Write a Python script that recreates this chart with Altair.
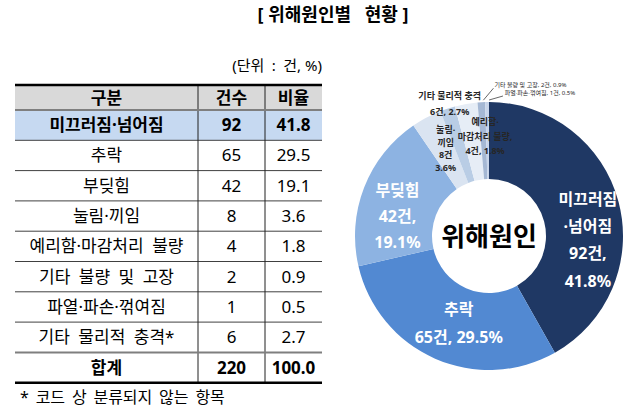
import math
import altair as alt
import pandas as pd

# ---------------- data ----------------
categories = ["미끄러짐·넘어짐", "추락", "부딪힘", "눌림·끼임", "예리함·마감처리 불량",
              "기타 불량 및 고장", "파열·파손·꺾여짐", "기타 물리적 충격"]
counts = [92, 65, 42, 8, 4, 2, 1, 6]
ratios = [41.8, 29.5, 19.1, 3.6, 1.8, 0.9, 0.5, 2.7]
total_count = 220
total_ratio = 100.0

header = ["구분", "건수", "비율"]
total_label = "합계"
title_text = "[ 위해원인별\u2002 현황 ]"
unit_text = "(단위\u2002:\u2002건, %)"
footnote = "*\u2009 코드\u2009 상\u2009 분류되지\u2009 않는\u2009 항목"
center_label = "위해원인"

# donut slice order (clockwise from 12 o'clock) and colours
donut_order = ["미끄러짐·넘어짐", "추락", "부딪힘", "눌림·끼임", "예리함·마감처리 불량",
               "기타 물리적 충격", "기타 불량 및 고장", "파열·파손·꺾여짐"]
donut_colors = ["#1f3864", "#5289d2", "#8db3e2", "#dae4f1", "#b9cde5",
                "#e6edf6", "#a5b8d4", "#c8d5ea"]

# ---------------- layout / style ----------------
W, H = 640, 416
FONT = "Noto Sans, Noto Sans CJK KR"
xs = alt.Scale(domain=[0, W], range=[0, W])
ys = alt.Scale(domain=[0, H], range=[0, H])

TBL_LEFT, TBL_TOP = 15, 85
COL_W = [183, 67, 57]
ROW_H = [25] + [30.3] * 9
col_edges = [TBL_LEFT]
for w in COL_W:
    col_edges.append(col_edges[-1] + w)
row_edges = [TBL_TOP]
for h in ROW_H:
    row_edges.append(row_edges[-1] + h)

display_names = {
    "예리함·마감처리 불량": "예리함·마감처리\u2002불량",
    "기타 불량 및 고장": "기타\u2002불량\u2002및\u2002고장",
    "기타 물리적 충격": "기타\u2002물리적\u2002충격*",
}

CX, CY, R_IN, R_OUT = 489, 236, 57, 134

# ---------------- table cells ----------------
table_rows = [header]
for c, n, p in zip(categories, counts, ratios):
    table_rows.append([display_names.get(c, c), str(n), f"{p:.1f}"])
table_rows.append([total_label, str(total_count), f"{total_ratio:.1f}"])
bold_rows = {0, 1, len(table_rows) - 1}

cells = []
for ri, row in enumerate(table_rows):
    for ci, txt in enumerate(row):
        cells.append(dict(
            x=(col_edges[ci] + col_edges[ci + 1]) / 2,
            y=(row_edges[ri] + row_edges[ri + 1]) / 2 + 1,
            text=txt,
            bold=ri in bold_rows,
        ))
cells = pd.DataFrame(cells)

fills = pd.DataFrame([
    dict(x=col_edges[0], x2=col_edges[-1], y=row_edges[0], y2=row_edges[1], fill="#d9d9d9"),
    dict(x=col_edges[0], x2=col_edges[-1], y=row_edges[1], y2=row_edges[2], fill="#c6d9f1"),
])

hlines = []
for i, yv in enumerate(row_edges):
    if i in (0, len(row_edges) - 1):
        kind = "thick"
    elif i in (1, len(row_edges) - 2):
        kind = "grey"
    else:
        kind = "thin"
    hlines.append(dict(x=col_edges[0], x2=col_edges[-1], y=yv, y2=yv, kind=kind))
for xv in col_edges[1:-1]:
    hlines.append(dict(x=xv, x2=xv, y=row_edges[0], y2=row_edges[-1], kind="vert"))
lines = pd.DataFrame(hlines)

# ---------------- donut ----------------
d_counts = [counts[categories.index(c)] for c in donut_order]
d_ratios = [ratios[categories.index(c)] for c in donut_order]
donut = pd.DataFrame(dict(cat=donut_order, count=d_counts, ord=list(range(len(donut_order)))))

label_layout = {
    "미끄러짐·넘어짐": dict(r=95, dx=7, dy=29, lh=27.3, style="big"),
    "추락": dict(r=95, dx=8, dy=1, lh=28, style="big"),
    "부딪힘": dict(r=95, dx=-3, dy=15, lh=26, style="big"),
    "눌림·끼임": dict(r=95, dx=1, dy=-3, lh=12.7, style="small"),
    "예리함·마감처리 불량": dict(r=100, dx=27, dy=-4, lh=14.5, style="small"),
    "기타 물리적 충격": dict(r=125, dx=-18, dy=-9, lh=16, style="small"),
    "기타 불량 및 고장": dict(r=150, dx=50, dy=-1, lh=0, style="tiny"),
    "파열·파손·꺾여짐": dict(r=142, dx=53, dy=-1, lh=0, style="tiny"),
}


def label_lines(name, c, p):
    if name == "미끄러짐·넘어짐":
        a, b = name.split("·")
        return [a, "·" + b, f"{c}건,", f"{p}%"]
    if name == "추락":
        return [name, f"{c}건, {p}%"]
    if name == "부딪힘":
        return [name, f"{c}건,", f"{p}%"]
    if name == "눌림·끼임":
        a, b = name.split("·")
        return [a + "·", b, f"{c}건", f"{p}%"]
    if name == "예리함·마감처리 불량":
        a, b = name.split("·")
        return [a + "·", b + ",", f"{c}건, {p}%"]
    if name == "기타 물리적 충격":
        return [name, f"{c}건, {p}%"]
    return [f"{name}, {c}건, {p}%"]


tot = sum(d_counts)
cum = 0
lab_rows = []
leaders = []
for name, c, p in zip(donut_order, d_counts, d_ratios):
    mid = (cum + c / 2) / tot * 2 * math.pi
    cum += c
    lay = label_layout[name]
    bx = CX + lay["r"] * math.sin(mid) + lay["dx"]
    by = CY - lay["r"] * math.cos(mid) + lay["dy"]
    ls = label_lines(name, c, p)
    n = len(ls)
    for i, t in enumerate(ls):
        lab_rows.append(dict(x=bx, y=by + (i - (n - 1) / 2) * lay["lh"], text=t, style=lay["style"]))
    if lay["style"] == "tiny":
        ox = CX + R_OUT * math.sin(mid)
        oy = CY - R_OUT * math.cos(mid)
        leaders.append(dict(x=ox + 2, y=oy - 2, x2=bx - 37, y2=by + 3))
labels = pd.DataFrame(lab_rows)
leaders = pd.DataFrame(leaders)

# ---------------- annotations ----------------
annot = pd.DataFrame([
    dict(x=333, y=16, text=title_text, kind="title"),
    dict(x=col_edges[-1], y=66, text=unit_text, kind="unit"),
    dict(x=20, y=398, text=footnote, kind="foot"),
    dict(x=CX, y=CY + 2, text=center_label, kind="center"),
])


def X(f):
    return alt.X(f, type="quantitative", scale=xs, axis=None)


def Y(f):
    return alt.Y(f, type="quantitative", scale=ys, axis=None)


base_fill = alt.Chart(fills).mark_rect().encode(
    x=X("x"), x2="x2", y=Y("y"), y2="y2", color=alt.Color("fill:N", scale=None))

line_layers = []
for kind, sw, col in [("thin", 1, "#404040"), ("vert", 1, "#202020"),
                      ("grey", 2, "#7f7f7f"), ("thick", 2.5, "#000000")]:
    line_layers.append(
        alt.Chart(lines).transform_filter(alt.datum.kind == kind).mark_rule(
            strokeWidth=sw, color=col).encode(x=X("x"), x2="x2", y=Y("y"), y2="y2"))

cell_normal = alt.Chart(cells).transform_filter(alt.datum.bold == False).mark_text(
    font=FONT, fontSize=17, color="#000", baseline="middle", align="center").encode(
    x=X("x"), y=Y("y"), text="text:N")
cell_bold = alt.Chart(cells).transform_filter(alt.datum.bold == True).mark_text(
    font=FONT, fontSize=17, fontWeight="bold", color="#000", baseline="middle", align="center").encode(
    x=X("x"), y=Y("y"), text="text:N")

arcs = alt.Chart(donut).mark_arc(innerRadius=R_IN, outerRadius=R_OUT).encode(
    theta=alt.Theta("count:Q", stack=True),
    color=alt.Color("cat:N", scale=alt.Scale(domain=donut_order, range=donut_colors), legend=None),
    order=alt.Order("ord:Q"),
    x=alt.value(CX), y=alt.value(CY))

lab_layers = []
for style, size, weight, col in [("big", 16, "bold", "#ffffff"), ("small", 9, "bold", "#262626"),
                                 ("tiny", 6, "normal", "#262626")]:
    lab_layers.append(
        alt.Chart(labels).transform_filter(alt.datum.style == style).mark_text(
            font=FONT, fontSize=size, fontWeight=weight, color=col, baseline="middle",
            align="center").encode(x=X("x"), y=Y("y"), text="text:N"))

leader_layer = alt.Chart(leaders).mark_rule(color="#404040", strokeWidth=0.8).encode(
    x=X("x"), x2="x2", y=Y("y"), y2="y2")

annot_layers = []
for kind, size, weight, align in [("title", 18, "bold", "center"), ("unit", 15, "normal", "right"),
                                  ("foot", 16, "normal", "left"), ("center", 26, "bold", "center")]:
    annot_layers.append(
        alt.Chart(annot).transform_filter(alt.datum.kind == kind).mark_text(
            font=FONT, fontSize=size, fontWeight=weight, color="#000", baseline="middle",
            align=align).encode(x=X("x"), y=Y("y"), text="text:N"))

chart = alt.layer(base_fill, *line_layers, cell_normal, cell_bold, arcs, *lab_layers,
                  leader_layer, *annot_layers).resolve_scale(color="independent").properties(
    width=W, height=H, padding=0, autosize=alt.AutoSizeParams(type="none"),
    background="white").configure_view(stroke=None)

chart.save("out.html", embed_options={"renderer": "svg", "actions": False})
